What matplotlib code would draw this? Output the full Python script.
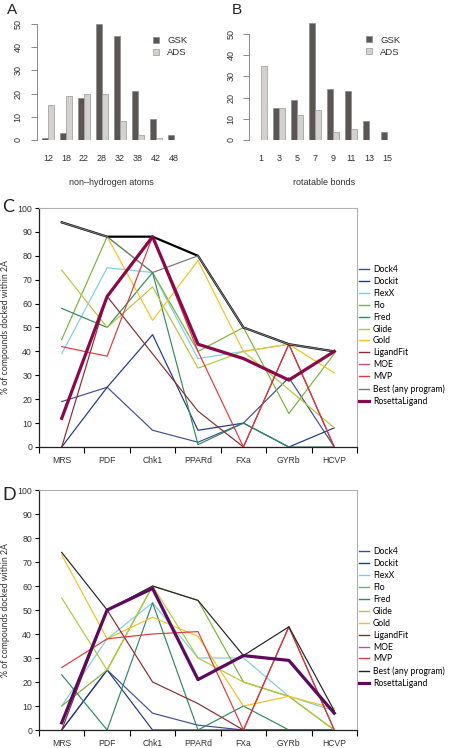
import numpy as np
import matplotlib
matplotlib.use('Agg')
import matplotlib.pyplot as plt

# ---- data: panel A / B histograms ----
atoms = ['12', '18', '22', '28', '32', '38', '42', '48']
gsk_atoms = [1, 3, 18, 50, 45, 21, 9, 2]
ads_atoms = [15, 19, 20, 20, 8, 2, 1, 0]

bonds = ['1', '3', '5', '7', '9', '11', '13', '15']
gsk_bonds = [0, 15, 19, 55, 24, 23, 9, 4]
ads_bonds = [35, 15, 12, 14, 4, 5, 0, 0]

# ---- data: panel C / D docking success ----
targets = ['MRS', 'PDF', 'Chk1', 'PPARd', 'FXa', 'GYRb', 'HCVP']
programs = ['Dock4', 'Dockit', 'FlexX', 'Flo', 'Fred', 'Glide', 'Gold',
            'LigandFit', 'MOE', 'MVP', 'Best (any program)', 'RosettaLigand']

dock4_c = [19, 25, 7, 2, 10, 29, 0]
dockit_c = [0, 25, 47, 7, 10, 0, 8]
flexx_c = [39, 75, 73, 37, 40, 43, 40]
flo_c = [45, 88, 73, 40, 50, 14, 39]
fred_c = [58, 50, 73, 1, 10, 0, 0]
glide_c = [74, 50, 67, 33, 40, 24, 8]
gold_c = [94, 88, 53, 78, 40, 43, 31]
ligandfit_c = [0, 63, 39, 15, 0, 43, 0]
moe_c = [0, 0, 0, 0, 0, 0, 0]
mvp_c = [42, 38, 88, 40, 0, 43, 0]
best_c = [94, 88, 73, 80, 50, 43, 40]
rosetta_c = [12, 63, 88, 43, 37, 28, 40]
best_all_c = [94, 88, 88, 80, 50, 43, 40]

dock4_d = [0, 25, 7, 2, 0, 0, 0]
dockit_d = [0, 25, 0, 0, 0, 0, 0]
flexx_d = [10, 38, 53, 30, 30, 14, 8]
flo_d = [10, 25, 60, 54, 20, 14, 0]
fred_d = [23, 0, 53, 0, 10, 0, 0]
glide_d = [55, 25, 60, 30, 20, 14, 0]
gold_d = [73, 38, 47, 39, 10, 14, 9]
ligandfit_d = [0, 50, 20, 11, 0, 43, 0]
moe_d = [0, 0, 0, 0, 0, 0, 0]
mvp_d = [26, 38, 40, 41, 0, 43, 0]
best_d = [74, 50, 60, 54, 31, 43, 8]
rosetta_d = [3, 50, 59, 21, 31, 29, 7]

colors = {'Dock4': '#3d4e95', 'Dockit': '#1f3585', 'FlexX': '#7dcde3',
          'Flo': '#78b43a', 'Fred': '#2f8a60', 'Glide': '#b5c63c',
          'Gold': '#f4c020', 'LigandFit': '#8c2a2e', 'MOE': '#d2488e',
          'MVP': '#e0393c'}

W, H = 450, 748
fig = plt.figure(figsize=(W / 100, H / 100), dpi=100)
fig.patch.set_facecolor('white')


def rect(x0, y_top, x1, y_bot):
    return [x0 / W, 1 - y_bot / H, (x1 - x0) / W, (y_bot - y_top) / H]


def bar_panel(box, names, gsk, ads, ymax, xlabel):
    ax = fig.add_axes(box)
    n = len(names)
    x = np.arange(n) * 3 + 1
    ax.bar(x, gsk, width=1, align='edge', color='#5b5654', edgecolor='#8a8888', lw=0.5, label='GSK')
    ax.bar(x + 1, ads, width=1, align='edge', color='#d3d0cf', edgecolor='#9a9898', lw=0.5, label='ADS')
    ax.set_xlim(0.08, 24.92)
    ax.set_ylim(0, ymax)
    for s in ['top', 'right', 'bottom']:
        ax.spines[s].set_visible(False)
    ax.spines['left'].set_bounds(0, 50)
    ax.spines['left'].set_color('#777777')
    ax.spines['left'].set_linewidth(0.6)
    ax.set_yticks([0, 10, 20, 30, 40, 50])
    ax.set_yticklabels(['0', '10', '20', '30', '40', '50'], rotation=90, va='center',
                       fontsize=6.5, family='Liberation Sans', color='#333333')
    ax.tick_params(axis='y', length=4, width=0.6, color='#777777', pad=6)
    ax.set_xticks(x + 1)
    ax.set_xticklabels(names, fontsize=6.5, family='Liberation Sans', color='#333333')
    ax.tick_params(axis='x', length=0, pad=10)
    ax.set_xlabel(xlabel, fontsize=6.5, family='Liberation Sans', color='#333333', labelpad=11)
    ax.legend(loc='upper right', bbox_to_anchor=(1.07, 0.93), frameon=False,
              prop={'family': 'Liberation Sans', 'size': 6.8}, handlelength=0.6,
              handleheight=0.6, handletextpad=0.9, labelspacing=0.3, labelcolor='#333333')
    return ax


bar_panel(rect(36.5, 19.4, 185.5, 140), atoms, gsk_atoms, ads_atoms, 52, 'non\u2013hydrogen atoms')
bar_panel(rect(249.5, 18.7, 398.5, 140), bonds, gsk_bonds, ads_bonds, 57.2, 'rotatable bonds')

fig.text(7 / W, 1 - 14 / H, 'A', fontsize=11, family='Liberation Sans', color='#222222')
fig.text(232 / W, 1 - 14 / H, 'B', fontsize=11, family='Liberation Sans', color='#222222')


def line_panel(box, series, best, rosetta, ros_color, best_color, extra=None):
    ax = fig.add_axes(box)
    x = np.arange(len(targets))
    for name, vals in series:
        ax.plot(x, vals, color=colors[name], lw=0.85, label=name)
    if extra is not None:
        ax.plot(x, extra, color='black', lw=1.6)
    ax.plot(x, best, color=best_color, lw=0.85, label='Best (any program)')
    ax.plot(x, rosetta, color=ros_color, lw=2.3, label='RosettaLigand')
    ax.set_xlim(-0.5, 6.5)
    ax.set_ylim(0, 100)
    for s in ['top', 'right']:
        ax.spines[s].set_color('#b0b0b0')
        ax.spines[s].set_linewidth(0.8)
    for s in ['left', 'bottom']:
        ax.spines[s].set_color('#222222')
        ax.spines[s].set_linewidth(0.9)
    ax.set_yticks(np.arange(0, 101, 10))
    ax.set_yticklabels([str(v) for v in range(0, 101, 10)], fontsize=6.3,
                       family='Liberation Sans', color='#333333')
    ax.tick_params(axis='y', length=3, width=0.8, pad=2)
    ax.set_xticks(x)
    ax.set_xticklabels(targets, fontsize=6.2, family='Liberation Sans', color='#333333')
    ax.set_xticks(np.arange(-0.5, 7, 1), minor=True)
    ax.tick_params(axis='x', which='major', length=0, pad=6.5)
    ax.tick_params(axis='x', which='minor', length=4, width=0.8)
    ax.set_ylabel('% of compounds docked within 2\u00c5', fontsize=6.3, family='Lato',
                  color='#333333', labelpad=5)
    leg = ax.legend(loc='upper left', bbox_to_anchor=(1.005, 0.762), frameon=False,
                    prop={'family': 'Lato', 'size': 6.2}, handlelength=1.25,
                    handletextpad=0.4, labelspacing=0.34, borderaxespad=0.0,
                    borderpad=0.0)
    for h in leg.get_lines()[:-1]:
        h.set_linewidth(1.0)
    return ax


series_c = [('Dock4', dock4_c), ('Dockit', dockit_c), ('FlexX', flexx_c), ('Flo', flo_c),
            ('Fred', fred_c), ('Glide', glide_c), ('Gold', gold_c), ('LigandFit', ligandfit_c),
            ('MOE', moe_c), ('MVP', mvp_c)]
series_d = [('Dock4', dock4_d), ('Dockit', dockit_d), ('FlexX', flexx_d), ('Flo', flo_d),
            ('Fred', fred_d), ('Glide', glide_d), ('Gold', gold_d), ('LigandFit', ligandfit_d),
            ('MOE', moe_d), ('MVP', mvp_d)]

line_panel(rect(39, 208, 357, 447), series_c, best_c, rosetta_c, '#8a0a48', '#777777', extra=best_all_c)
line_panel(rect(39, 490, 357, 730), series_d, best_d, rosetta_d, '#5c0a5e', '#222222')

fig.text(2 / W, 1 - 212 / H, 'C', fontsize=13, family='Lato', color='#222222')
fig.text(2 / W, 1 - 500 / H, 'D', fontsize=13, family='Lato', color='#222222')

fig.savefig('out.png', dpi=100)
